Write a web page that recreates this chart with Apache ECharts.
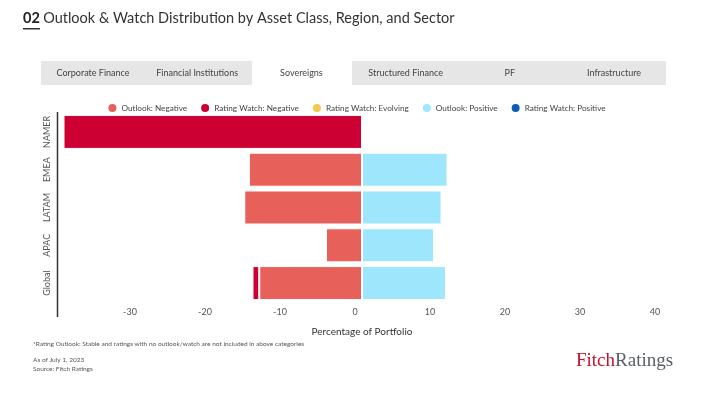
<!DOCTYPE html>
<html>
<head>
<meta charset="utf-8">
<script src="https://cdn.jsdelivr.net/npm/echarts@6/dist/echarts.min.js"></script>
<style>
  html,body{margin:0;padding:0;background:#fff;}
  #chart{width:712px;height:397px;}
</style>
</head>
<body>
<div id="chart"></div>
<script>
// 数据
var regions = ['NAMER', 'EMEA', 'LATAM', 'APAC', 'Global'];
var outlookNegative = [0, -15.1, -15.7, -4.8, -13.7];
var watchNegative = [-39.8, 0, 0, 0, -0.9];
var watchEvolving = [0, 0, 0, 0, 0];
var outlookPositive = [0, 11.4, 10.6, 9.6, 11.2];
var watchPositive = [0, 0, 0, 0, 0];
var xTicks = [-40, 40, 10]; // min, max, interval
var tabs = ['Corporate Finance', 'Financial Institutions', 'Sovereigns', 'Structured Finance', 'PF', 'Infrastructure'];

var FONT = 'Lato, "Open Sans", sans-serif';

var myChart = echarts.init(document.getElementById('chart'));

// 顶部标签页
var tabGraphics = [
  { type: 'rect', shape: { x: 41, y: 61, width: 625, height: 24 }, style: { fill: '#e6e6e6' } },
  { type: 'rect', shape: { x: 252, y: 59, width: 100, height: 26, r: [3, 3, 0, 0] }, style: { fill: '#ffffff' } }
];
tabs.forEach(function (t, i) {
  tabGraphics.push({
    type: 'text',
    x: 41 + 104.2 * i + 52, y: 73,
    style: { text: t, fill: '#444', font: '9px ' + FONT, align: 'center', verticalAlign: 'middle' }
  });
});

var barSeries = function (name, data, color) {
  return {
    name: name,
    type: 'bar',
    stack: 'total',
    data: data,
    barCategoryGap: '10%',
    itemStyle: { color: color, borderColor: '#ffffff', borderWidth: 1 },
    emphasis: { disabled: true }
  };
};

var option = {
  backgroundColor: '#ffffff',
  animation: false,
  color: ['#e8605a', '#cc0033', '#f2c94c', '#9de6fb', '#0a5eb0'],
  legend: {
    top: 97,
    left: 'center',
    icon: 'circle',
    itemWidth: 10,
    itemHeight: 10,
    itemGap: 12,
    textStyle: { color: '#444', fontSize: 8.2, fontFamily: FONT, padding: [0, 0, 0, -1] },
    data: ['Outlook: Negative', 'Rating Watch: Negative', 'Rating Watch: Evolving', 'Outlook: Positive', 'Rating Watch: Positive']
  },
  grid: {
    left: 62,
    right: 50,
    top: 113,
    bottom: 95
  },
  xAxis: {
    type: 'value',
    min: xTicks[0],
    max: xTicks[1],
    interval: xTicks[2],
    name: 'Percentage of Portfolio',
    nameLocation: 'middle',
    nameGap: 25,
    nameTextStyle: { color: '#333', fontSize: 10, fontFamily: FONT },
    axisLine: { show: false },
    axisTick: { show: false },
    splitLine: { show: false },
    axisLabel: {
      showMinLabel: false,
      color: '#555',
      fontSize: 9,
      fontFamily: FONT,
      margin: 6,
      padding: [0, 14, 0, 0]
    }
  },
  yAxis: {
    type: 'category',
    inverse: true,
    data: regions,
    axisLine: { show: false },
    axisTick: { show: false },
    axisLabel: {
      interval: 0,
      rotate: 90,
      color: '#555',
      fontSize: 9,
      fontFamily: FONT,
      margin: 10
    }
  },
  series: [
    barSeries('Outlook: Negative', outlookNegative, '#e8605a'),
    barSeries('Rating Watch: Negative', watchNegative, '#cc0033'),
    barSeries('Rating Watch: Evolving', watchEvolving, '#f2c94c'),
    barSeries('Outlook: Positive', outlookPositive, '#9de6fb'),
    barSeries('Rating Watch: Positive', watchPositive, '#0a5eb0')
  ],
  graphic: tabGraphics.concat([
    // 标题
    {
      type: 'text', x: 23, y: 11,
      style: {
        text: '{b|02} {n|Outlook & Watch Distribution by Asset Class, Region, and Sector}',
        rich: {
          b: { font: 'bold 14.5px ' + FONT, fill: '#222' },
          n: { font: '14.5px ' + FONT, fill: '#333' }
        }
      }
    },
    { type: 'rect', shape: { x: 23, y: 28, width: 17, height: 1.5 }, style: { fill: '#333' } },
    // 纵轴线
    { type: 'line', shape: { x1: 57.5, y1: 112, x2: 57.5, y2: 317 }, style: { stroke: '#333', lineWidth: 1.5 } },
    // 脚注
    { type: 'text', x: 33, y: 340, style: { text: '*Rating Outlook: Stable and ratings with no outlook/watch are not included in above categories', fill: '#555', font: '6.5px ' + FONT } },
    { type: 'text', x: 33, y: 356, style: { text: 'As of July 1, 2023', fill: '#555', font: '6.5px ' + FONT } },
    { type: 'text', x: 33, y: 365, style: { text: 'Source: Fitch Ratings', fill: '#555', font: '6.5px ' + FONT } },
    // 标志
    {
      type: 'text', x: 576, y: 352,
      style: {
        text: '{f|Fitch}{r|Ratings}',
        rich: {
          f: { font: '19px "Liberation Serif", "DejaVu Serif", serif', fill: '#c8102e' },
          r: { font: '19px "Liberation Serif", "DejaVu Serif", serif', fill: '#5a5f66' }
        }
      }
    }
  ])
};

myChart.setOption(option);
</script>
</body>
</html>
